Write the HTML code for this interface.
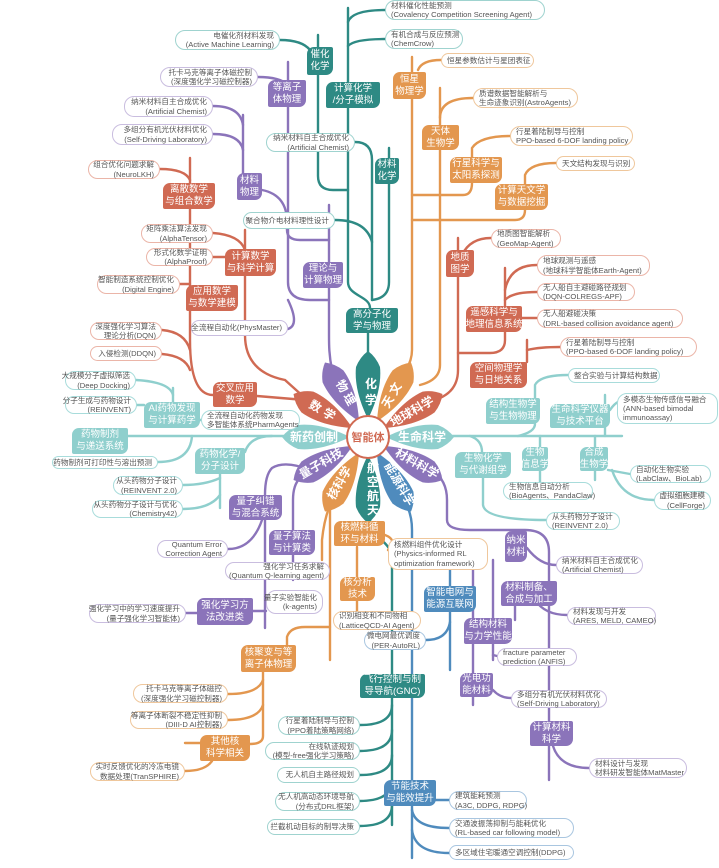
<!DOCTYPE html>
<html><head><meta charset="utf-8"><style>
body{margin:0;width:719px;height:868px;background:#fff;position:relative;overflow:hidden;font-family:"Liberation Sans","Noto Sans CJK SC",sans-serif}
svg{position:absolute;left:0;top:0}
.b{position:absolute;color:#fff;font-size:9.5px;line-height:12px;display:flex;align-items:center;justify-content:center;text-align:center;border-radius:7px 2px 7px 2px;white-space:nowrap;overflow:hidden}
.l{position:absolute;background:#fff;border:1px solid #ccc;border-radius:10px;font-size:7.6px;line-height:9.2px;color:#555;display:flex;align-items:center;justify-content:flex-end;text-align:right;padding:0 5px;box-sizing:border-box;white-space:nowrap}
.r{justify-content:flex-start;text-align:left}
.T{background:#2e8a84}.P{background:#8b74ba}.O{background:#e3974f}.R{background:#d06a53}.L{background:#8fcfcd}.B{background:#4f8bbd}
.t{border-color:#9fd3cf}.p{border-color:#c9bddf}.o{border-color:#efc79c}.rr{border-color:#ebb5a8}.lt{border-color:#a8dcdb}.bl{border-color:#a9c6e0}
</style></head><body>
<svg width="719" height="868" fill="none" stroke-width="2.4" stroke-linecap="round">
<g stroke="#2e8a84">
<path d="M368 365 V333"/><path d="M370 308 C370 296 348 296 348 282 V8"/>
<path d="M348 22 Q352 10 385 10"/><path d="M348 46 Q354 39 385 39"/>
<path d="M318 35 V176 Q318 190 333 190 H348"/><path d="M280 40 Q302 40 310 50"/>
<path d="M372 300 V160 Q372 142 355 142"/><path d="M389 148 V282 Q389 298 372 300"/>
<path d="M335 220 Q366 220 372 242"/>
<path d="M370 520 C372 540 392 540 392 560 V825"/>
<path d="M392 705 Q392 725 360 725"/><path d="M392 730 Q392 751 360 751"/><path d="M392 755 Q392 775 360 775"/><path d="M392 780 Q392 801 360 801"/><path d="M392 805 Q392 826 360 826"/>
</g>
<g stroke="#8b74ba">
<path d="M332 370 C329 355 329 345 329 335 V205"/><path d="M288 62 V282 Q288 300 310 300 H329"/>
<path d="M262 190 Q287 195 287 222 V230 Q287 240 300 240 H329"/>
<path d="M243 115 V175"/><path d="M213 106 Q240 106 243 125"/><path d="M213 134 Q240 134 243 150"/><path d="M258 77 Q280 77 288 85"/>
<path d="M288 300 Q300 325 288 329"/>
<path d="M310 470 Q285 460 272 468 Q265 475 265 495 V628"/><path d="M300 478 Q293 485 293 500 V580"/>
<path d="M228 549 Q252 549 262 520"/><path d="M186 613 H197"/><path d="M253 611 H266"/>
<path d="M432 470 Q447 480 447 500 V520 Q447 530 470 530 H525 Q549 530 549 552 V780"/>
<path d="M473 540 V705"/><path d="M493 560 V660"/><path d="M515 600 V620"/>
<path d="M527 548 Q540 565 556 565"/><path d="M535 600 Q545 615 567 615"/><path d="M493 655 L497 656"/><path d="M493 690 Q500 698 511 698"/><path d="M553 746 Q560 768 589 768"/>
</g>
<g stroke="#d06a53">
<path d="M245 230 V335 Q245 372 285 380 L305 398"/><path d="M190 158 V340 Q190 395 213 395"/><path d="M257 396 L305 400"/>
<path d="M162 330 Q185 332 190 350"/><path d="M162 354 Q185 356 190 370"/><path d="M160 169 Q185 169 190 180"/>
<path d="M213 233 Q240 235 245 250"/><path d="M213 257 H225"/><path d="M180 284 H190"/>
<path d="M458 238 V370 Q458 390 440 398"/><path d="M505 268 V340 Q505 353 490 353 H458"/>
<path d="M527 340 V362"/><path d="M527 350 Q540 347 560 347"/>
<path d="M462 255 Q470 238 491 238"/><path d="M505 290 Q510 265 537 265"/><path d="M505 300 Q512 292 537 292"/><path d="M522 318 H537"/>
</g>
<g stroke="#e3974f">
<path d="M406 370 Q412 360 412 350 V57"/><path d="M440 88 V365 Q440 380 420 385"/>
<path d="M412 195 H463 Q472 195 472 183"/><path d="M412 220 H515 Q525 220 525 210"/>
<path d="M418 70 Q422 60 441 60"/><path d="M440 118 Q440 98 473 98"/><path d="M472 157 V148 Q480 136 510 136"/><path d="M525 185 V175 Q530 163 556 163"/>
<path d="M330 505 Q324 520 322 540 V560"/><path d="M330 505 V660"/><path d="M357 547 V577"/><path d="M357 600 V611"/>
<path d="M385 535 Q398 540 388 550"/>
<path d="M287 645 V637 Q290 627 305 627 H330"/>
<path d="M263 672 V736 Q263 744 250 744"/><path d="M185 743 H200"/>
<path d="M228 694 Q258 694 263 680"/><path d="M228 720 Q258 720 263 705"/><path d="M185 771 Q205 771 212 761"/>
</g>
<g stroke="#8fcfcd">
<path d="M128 436 H300"/><path d="M445 436 H622"/>
<path d="M173 388 V402"/><path d="M136 380 Q170 382 173 395"/><path d="M137 405 H144"/><path d="M200 420 H202"/>
<path d="M158 462 Q190 462 192 436"/><path d="M245 452 Q250 436 272 436"/><path d="M220 474 V508"/>
<path d="M183 485 Q205 485 220 478"/><path d="M183 509 Q210 509 220 495"/>
<path d="M518 436 Q535 432 535 424"/><path d="M535 398 V385 Q540 375 568 375"/><path d="M605 395 V436"/><path d="M610 410 Q614 404 618 402"/>
<path d="M470 436 Q482 440 482 452"/><path d="M483 478 V505 Q485 520 546 520"/>
<path d="M540 436 V448"/><path d="M540 470 V482"/><path d="M595 436 V448"/><path d="M595 470 V480"/>
<path d="M608 470 L630 474"/><path d="M612 470 Q622 500 654 500"/>
</g>
<g stroke="#4f8bbd">
<path d="M406 504 Q412 515 412 530 V858"/><path d="M450 570 V670"/><path d="M426 640 Q447 640 450 622"/>
<path d="M436 800 H449"/><path d="M412 810 Q415 828 449 828"/><path d="M412 830 Q415 853 449 853"/>
</g>
<g stroke="none">
<g transform="translate(368 437)">
<path d="M18 0 C30 -6 50 -14 70 -12 Q80 -8 86 0 Q80 8 70 12 C50 14 30 6 18 0Z" fill="#8fcfcd"/>
<path d="M18 0 C30 -6 50 -14 70 -12 Q80 -8 86 0 Q80 8 70 12 C50 14 30 6 18 0Z" transform="rotate(30)" fill="#8b74ba"/>
<path d="M18 0 C30 -6 50 -14 70 -12 Q80 -8 86 0 Q80 8 70 12 C50 14 30 6 18 0Z" transform="rotate(60)" fill="#4f8bbd"/>
<path d="M18 0 C30 -6 50 -14 70 -12 Q80 -8 86 0 Q80 8 70 12 C50 14 30 6 18 0Z" transform="rotate(90)" fill="#2e8a84"/>
<path d="M18 0 C30 -6 50 -14 70 -12 Q80 -8 86 0 Q80 8 70 12 C50 14 30 6 18 0Z" transform="rotate(120)" fill="#e3974f"/>
<path d="M18 0 C30 -6 50 -14 70 -12 Q80 -8 86 0 Q80 8 70 12 C50 14 30 6 18 0Z" transform="rotate(150)" fill="#8b74ba"/>
<path d="M18 0 C30 -6 50 -14 70 -12 Q80 -8 86 0 Q80 8 70 12 C50 14 30 6 18 0Z" transform="rotate(180)" fill="#8fcfcd"/>
<path d="M18 0 C30 -6 50 -14 70 -12 Q80 -8 86 0 Q80 8 70 12 C50 14 30 6 18 0Z" transform="rotate(210)" fill="#d06a53"/>
<path d="M18 0 C30 -6 50 -14 70 -12 Q80 -8 86 0 Q80 8 70 12 C50 14 30 6 18 0Z" transform="rotate(240)" fill="#8b74ba"/>
<path d="M18 0 C30 -6 50 -14 70 -12 Q80 -8 86 0 Q80 8 70 12 C50 14 30 6 18 0Z" transform="rotate(270)" fill="#2e8a84"/>
<path d="M18 0 C30 -6 50 -14 70 -12 Q80 -8 86 0 Q80 8 70 12 C50 14 30 6 18 0Z" transform="rotate(300)" fill="#e3974f"/>
<path d="M18 0 C30 -6 50 -14 70 -12 Q80 -8 86 0 Q80 8 70 12 C50 14 30 6 18 0Z" transform="rotate(330)" fill="#d06a53"/>
<circle r="21" fill="#fff" stroke="#d06a53" stroke-width="2"/>
</g>
<g fill="#fff" font-size="12" font-weight="bold" text-anchor="middle" font-family="Liberation Sans,Noto Sans CJK SC,sans-serif">
<text x="422" y="441">生命科学</text>
<text transform="translate(415 467) rotate(30)">材料科学</text>
<text transform="translate(396 486) rotate(60)">能源科学</text>
<text x="373" y="472">航</text><text x="373" y="486">空</text><text x="373" y="500">航</text><text x="373" y="514">天</text>
<text transform="translate(343 485) rotate(-60)">核科学</text>
<text transform="translate(323 467) rotate(-30)">量子科技</text>
<text x="314" y="441">新药创制</text>
<text transform="translate(322 415) rotate(30)" letter-spacing="4">数学</text>
<text transform="translate(343 396) rotate(60)" letter-spacing="3">物理</text>
<text x="371" y="388">化</text><text x="371" y="404">学</text>
<text transform="translate(396 396) rotate(-60)" letter-spacing="3">天文</text>
<text transform="translate(414 415) rotate(-30)">地球科学</text>
<text x="368" y="441" fill="#d06a53" font-size="11">智能体</text>
</g>
</g>
</svg>

<div class="l t" style="left:385px;top:0;width:160px;height:20px;justify-content:flex-start;text-align:left">材料催化性能预测<br>(Covalency Competition Screening Agent)</div>
<div class="l t r" style="left:385px;top:29px;width:78px;height:20px">有机合成与反应预测<br>(ChemCrow)</div>
<div class="l t" style="left:175px;top:30px;width:105px;height:20px">电催化剂材料发现<br>(Active Machine Learning)</div>
<div class="b T" style="left:307px;top:47px;width:26px;height:28px">催化<br>化学</div>
<div class="b T" style="left:326px;top:82px;width:54px;height:26px">计算化学<br>/分子模拟</div>
<div class="l t" style="left:266px;top:133px;width:89px;height:19px">纳米材料自主合成优化<br>(Artificial Chemist)</div>
<div class="b T" style="left:375px;top:158px;width:24px;height:26px">材料<br>化学</div>
<div class="l t" style="left:243px;top:212px;width:92px;height:17px">聚合物介电材料理性设计</div>
<div class="b T" style="left:346px;top:308px;width:52px;height:25px">高分子化<br>学与物理</div>
<div class="l p" style="left:160px;top:67px;width:98px;height:20px">托卡马克等离子体磁控制<br>(深度强化学习磁控制器)</div>
<div class="b P" style="left:268px;top:80px;width:38px;height:27px">等离子<br>体物理</div>
<div class="l p" style="left:124px;top:96px;width:89px;height:21px">纳米材料自主合成优化<br>(Artificial Chemist)</div>
<div class="l p" style="left:112px;top:124px;width:101px;height:21px">多组分有机光伏材料优化<br>(Self-Driving Laboratory)</div>
<div class="b P" style="left:237px;top:173px;width:25px;height:27px">材料<br>物理</div>
<div class="b P" style="left:303px;top:262px;width:40px;height:26px">理论与<br>计算物理</div>
<div class="l p" style="left:191px;top:320px;width:97px;height:16px">全流程自动化(PhysMaster)</div>
<div class="l rr" style="left:88px;top:160px;width:72px;height:19px">组合优化问题求解<br>(NeuroLKH)</div>
<div class="b R" style="left:163px;top:183px;width:52px;height:26px">离散数学<br>与组合数学</div>
<div class="l rr" style="left:141px;top:224px;width:72px;height:19px">矩阵乘法算法发现<br>(AlphaTensor)</div>
<div class="l rr" style="left:146px;top:248px;width:67px;height:18px">形式化数学证明<br>(AlphaProof)</div>
<div class="b R" style="left:225px;top:249px;width:51px;height:27px">计算数学<br>与科学计算</div>
<div class="l rr" style="left:97px;top:275px;width:83px;height:19px">智能制造系统控制优化<br>(Digital Engine)</div>
<div class="b R" style="left:186px;top:285px;width:52px;height:26px">应用数学<br>与数学建模</div>
<div class="l rr" style="left:90px;top:322px;width:72px;height:18px">深度强化学习算法<br>理论分析(DQN)</div>
<div class="l rr" style="left:90px;top:346px;width:72px;height:15px">入侵检测(DDQN)</div>
<div class="b R" style="left:213px;top:382px;width:44px;height:25px">交叉应用<br>数学</div>
<div class="l o r" style="left:441px;top:53px;width:93px;height:15px">恒星参数估计与星团表征</div>
<div class="b O" style="left:393px;top:72px;width:33px;height:27px">恒星<br>物理学</div>
<div class="l o r" style="left:473px;top:88px;width:105px;height:20px">质谱数据智能解析与<br>生命迹象识别(AstroAgents)</div>
<div class="b O" style="left:422px;top:125px;width:37px;height:25px">天体<br>生物学</div>
<div class="l o r" style="left:510px;top:126px;width:123px;height:20px">行星着陆制导与控制<br>PPO-based 6-DOF landing policy</div>
<div class="b O" style="left:450px;top:157px;width:52px;height:26px">行星科学与<br>太阳系探测</div>
<div class="l o r" style="left:556px;top:156px;width:79px;height:15px">天文结构发现与识别</div>
<div class="b O" style="left:495px;top:184px;width:53px;height:26px">计算天文学<br>与数据挖掘</div>
<div class="l rr r" style="left:491px;top:229px;width:70px;height:19px">地质图智能解析<br>(GeoMap-Agent)</div>
<div class="b R" style="left:446px;top:250px;width:28px;height:27px">地质<br>图学</div>
<div class="l rr r" style="left:537px;top:255px;width:113px;height:21px">地球观测与遥感<br>(地球科学智能体Earth-Agent)</div>
<div class="l rr r" style="left:537px;top:283px;width:98px;height:18px">无人船自主避碰路径规划<br>(DQN-COLREGS-APF)</div>
<div class="b R" style="left:466px;top:306px;width:56px;height:26px">遥感科学与<br>地理信息系统</div>
<div class="l rr r" style="left:537px;top:309px;width:146px;height:19px">无人船避碰决策<br>(DRL-based collision avoidance agent)</div>
<div class="l rr r" style="left:560px;top:337px;width:137px;height:20px">行星着陆制导与控制<br>(PPO-based 6-DOF landing policy)</div>
<div class="b R" style="left:470px;top:362px;width:57px;height:26px">空间物理学<br>与日地关系</div>
<div class="l lt r" style="left:568px;top:368px;width:92px;height:15px">整合实验与计算结构数据</div>
<div class="b L" style="left:486px;top:398px;width:54px;height:26px">结构生物学<br>与生物物理</div>
<div class="b L" style="left:550px;top:404px;width:60px;height:24px">生命科学仪器<br>与技术平台</div>
<div class="l lt r" style="left:617px;top:393px;width:101px;height:31px">多模态生物传感信号融合<br>(ANN-based bimodal<br>immunoassay)</div>
<div class="b L" style="left:455px;top:452px;width:56px;height:26px">生物化学<br>与代谢组学</div>
<div class="b L" style="left:522px;top:447px;width:26px;height:24px">生物<br>信息学</div>
<div class="b L" style="left:580px;top:447px;width:28px;height:24px">合成<br>生物学</div>
<div class="l lt r" style="left:503px;top:482px;width:90px;height:18px">生物信息自动分析<br>(BioAgents、PandaClaw)</div>
<div class="l lt r" style="left:630px;top:465px;width:81px;height:18px">自动化生物实验<br>(LabClaw、BioLab)</div>
<div class="l lt" style="left:654px;top:491px;width:57px;height:19px">虚拟细胞建模<br>(CellForge)</div>
<div class="l lt r" style="left:546px;top:512px;width:74px;height:18px">从头药物分子设计<br>(REINVENT 2.0)</div>
<div class="l lt" style="left:65px;top:371px;width:71px;height:19px">大规模分子虚拟筛选<br>(Deep Docking)</div>
<div class="l lt" style="left:65px;top:396px;width:72px;height:18px">分子生成与药物设计<br>(REINVENT)</div>
<div class="b L" style="left:144px;top:402px;width:56px;height:26px">AI药物发现<br>与计算药学</div>
<div class="l lt r" style="left:201px;top:410px;width:99px;height:20px">全流程自动化药物发现<br>多智能体系统PharmAgents</div>
<div class="b L" style="left:72px;top:428px;width:56px;height:26px">药物制剂<br>与递送系统</div>
<div class="l lt" style="left:52px;top:456px;width:106px;height:13px">药物制剂可打印性与溶出预测</div>
<div class="b L" style="left:195px;top:448px;width:50px;height:26px">药物化学/<br>分子设计</div>
<div class="l lt" style="left:113px;top:476px;width:70px;height:19px">从头药物分子设计<br>(REINVENT 2.0)</div>
<div class="l lt" style="left:92px;top:500px;width:91px;height:18px">从头药物分子设计与优化<br>(Chemistry42)</div>
<div class="b P" style="left:229px;top:495px;width:53px;height:25px">量子纠错<br>与混合系统</div>
<div class="b P" style="left:269px;top:530px;width:46px;height:25px">量子算法<br>与计算类</div>
<div class="l p" style="left:157px;top:540px;width:71px;height:18px">Quantum Error<br>Correction Agent</div>
<div class="l p" style="left:225px;top:562px;width:105px;height:18px">强化学习任务求解<br>(Quantum Q-learning agent)</div>
<div class="l p" style="left:89px;top:604px;width:97px;height:19px">强化学习中的学习速度提升<br>(量子强化学习智能体)</div>
<div class="b P" style="left:197px;top:598px;width:56px;height:27px">强化学习方<br>法改进类</div>
<div class="l p" style="left:266px;top:590px;width:57px;height:24px">量子实验智能化<br>(k-agents)</div>
<div class="b O" style="left:334px;top:521px;width:51px;height:25px">核燃料循<br>环与材料</div>
<div class="l o r" style="left:388px;top:538px;width:100px;height:32px">核燃料组件优化设计<br>(Physics-informed RL<br>optimization framework)</div>
<div class="b O" style="left:340px;top:577px;width:35px;height:24px">核分析<br>技术</div>
<div class="l o r" style="left:333px;top:611px;width:88px;height:19px">识别相变和不同物相<br>(LatticeQCD-AI Agent)</div>
<div class="b O" style="left:241px;top:645px;width:55px;height:27px">核聚变与等<br>离子体物理</div>
<div class="l o" style="left:133px;top:684px;width:95px;height:19px">托卡马克等离子体磁控<br>(深度强化学习磁控制器)</div>
<div class="l o" style="left:130px;top:711px;width:98px;height:18px">等离子体断裂不稳定性抑制<br>(DIII-D AI控制器)</div>
<div class="b O" style="left:200px;top:735px;width:50px;height:26px">其他核<br>科学相关</div>
<div class="l o" style="left:90px;top:762px;width:95px;height:19px">实时反馈优化的冷冻电镜<br>数据处理(TranSPHIRE)</div>
<div class="b B" style="left:424px;top:586px;width:52px;height:26px">智能电网与<br>能源互联网</div>
<div class="l bl" style="left:364px;top:631px;width:62px;height:19px">微电网最优调度<br>(PER-AutoRL)</div>
<div class="b P" style="left:505px;top:531px;width:22px;height:31px">纳米<br>材料</div>
<div class="l p r" style="left:556px;top:556px;width:87px;height:18px">纳米材料自主合成优化<br>(Artificial Chemist)</div>
<div class="b P" style="left:501px;top:581px;width:56px;height:25px">材料制备、<br>合成与加工</div>
<div class="l p r" style="left:567px;top:607px;width:89px;height:18px">材料发现与开发<br>(ARES, MELD, CAMEO)</div>
<div class="b P" style="left:464px;top:618px;width:48px;height:26px">结构材料<br>与力学性能</div>
<div class="l p r" style="left:497px;top:648px;width:80px;height:18px">fracture parameter<br>prediction (ANFIS)</div>
<div class="b T" style="left:360px;top:674px;width:65px;height:24px">飞行控制与制<br>导导航(GNC)</div>
<div class="b P" style="left:460px;top:673px;width:33px;height:24px">光电功<br>能材料</div>
<div class="l p r" style="left:511px;top:690px;width:96px;height:18px">多组分有机光伏材料优化<br>(Self-Driving Laboratory)</div>
<div class="b P" style="left:530px;top:721px;width:43px;height:25px">计算材料<br>科学</div>
<div class="l p r" style="left:589px;top:758px;width:98px;height:20px">材料设计与发现<br>材料研发智能体MatMaster</div>
<div class="l t" style="left:278px;top:716px;width:82px;height:19px">行星着陆制导与控制<br>(PPO着陆策略网络)</div>
<div class="l t" style="left:265px;top:742px;width:95px;height:18px">在线轨迹规划<br>(模型-free强化学习策略)</div>
<div class="l t" style="left:277px;top:767px;width:83px;height:16px">无人机自主路径规划</div>
<div class="l t" style="left:275px;top:792px;width:85px;height:19px">无人机高动态环境导航<br>(分布式DRL框架)</div>
<div class="l t" style="left:267px;top:819px;width:93px;height:16px">拦截机动目标的制导决策</div>
<div class="b B" style="left:384px;top:780px;width:52px;height:26px">节能技术<br>与能效提升</div>
<div class="l bl r" style="left:449px;top:791px;width:78px;height:19px">建筑能耗预测<br>(A3C, DDPG, RDPG)</div>
<div class="l bl r" style="left:449px;top:818px;width:125px;height:20px">交通波振荡抑制与能耗优化<br>(RL-based car following model)</div>
<div class="l bl r" style="left:449px;top:845px;width:125px;height:15px">多区域住宅暖通空调控制(DDPG)</div>
</body></html>
